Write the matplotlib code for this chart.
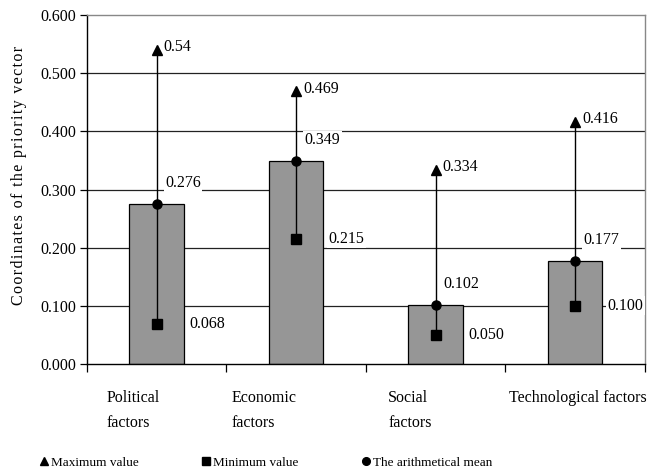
import numpy as np
import matplotlib
matplotlib.use('Agg')
import matplotlib.pyplot as plt

plt.rcParams['font.family'] = ['Liberation Serif', 'DejaVu Sans']

categories = ["Political\nfactors", "Economic\nfactors", "Social\nfactors", "Technological factors"]
max_vals = [0.54, 0.469, 0.334, 0.416]
mean_vals = [0.276, 0.349, 0.102, 0.177]
min_vals = [0.068, 0.215, 0.050, 0.100]
max_labels = ["0.54", "0.469", "0.334", "0.416"]
mean_labels = ["0.276", "0.349", "0.102", "0.177"]
min_labels = ["0.068", "0.215", "0.050", "0.100"]
y_ticks = [0.0, 0.1, 0.2, 0.3, 0.4, 0.5, 0.6]

x = np.arange(len(categories))

fig = plt.figure(figsize=(6.5, 4.72), dpi=100)
ax = fig.add_axes([0.1338, 0.2288, 0.858, 0.7392])

# grid lines behind everything
for yv in y_ticks[1:-1]:
    ax.axhline(yv, color='#222222', lw=0.9, zorder=0)

ax.bar(x, mean_vals, width=0.39, color='#969696', edgecolor='black', lw=0.9, zorder=2)

# vertical range lines (min -> max)
ax.vlines(x, min_vals, max_vals, color='black', lw=1.0, zorder=3)
h_max, = ax.plot(x, max_vals, '^', color='black', ms=7, ls='none', zorder=4)
h_min, = ax.plot(x, min_vals, 's', color='black', ms=6.5, ls='none', zorder=4)
h_mean, = ax.plot(x, mean_vals, 'o', color='black', ms=6.5, ls='none', zorder=4)

box = dict(facecolor='white', edgecolor='none', pad=1.0)
for i in range(len(x)):
    ax.annotate(max_labels[i], (x[i], max_vals[i]), xytext=(5, 2), textcoords='offset points',
                ha='left', va='center', fontsize=11.5, zorder=5)
    ax.annotate(mean_labels[i], (x[i], mean_vals[i]), xytext=(6, 15), textcoords='offset points',
                ha='left', va='center', fontsize=11.5, bbox=box, zorder=5)
    ax.annotate(min_labels[i], (x[i] + 0.195, min_vals[i]), xytext=(4, 0), textcoords='offset points',
                ha='left', va='center', fontsize=11.5, bbox=box, zorder=5)

ax.set_xlim(-0.5, len(x) - 0.5)
ax.set_ylim(0, 0.6)
ax.set_yticks(y_ticks)
ax.set_yticklabels([f"{v:.3f}" for v in y_ticks], fontsize=11.5)
ax.set_xticks(np.arange(len(x) + 1) - 0.5)
ax.set_xticklabels([])
ax.tick_params(axis='x', direction='out', length=6, width=0.9, color='black')
ax.tick_params(axis='y', direction='out', length=5, width=0.9, color='black', pad=3)

ax.spines['top'].set_color('#888888')
ax.spines['right'].set_color('#888888')
ax.spines['left'].set_color('black')
ax.spines['bottom'].set_color('black')
for s in ax.spines.values():
    s.set_linewidth(1.0)

# category labels, left aligned like the original
label_shift = [0.14, 0.04, 0.16, 0.03]
for i, lab in enumerate(categories):
    ax.text(x[i] - 0.5 + label_shift[i], -0.045, lab, ha='left', va='top',
            fontsize=11.5, linespacing=1.75, transform=ax.transData, clip_on=False)

# spaced-out axis title
ylab = "Coordinates of the priority vector"
ax.set_ylabel("\u200a".join(ylab), fontsize=11.5)
ax.yaxis.set_label_coords(-0.108, 0.54)

fig.legend([h_max, h_min, h_mean],
           ["Maximum value", "Minimum value", "The arithmetical mean"],
           loc='lower left', bbox_to_anchor=(0.042, -0.018), ncol=3, frameon=False,
           fontsize=9.5, handlelength=0.7, handletextpad=0.2, columnspacing=4.75,
           markerscale=0.85)

fig.savefig('out.png', dpi=100)
